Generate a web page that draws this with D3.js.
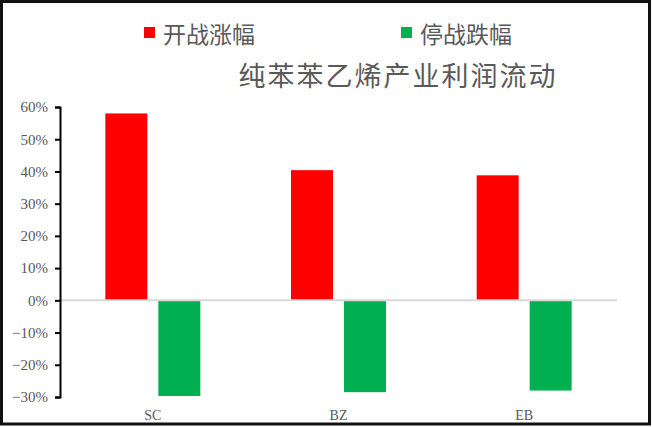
<!DOCTYPE html>
<html>
<head>
<meta charset="utf-8">
<script src="https://cdn.jsdelivr.net/npm/d3@7"></script>
<style>
  body { margin: 0; background: #fff; }
  svg { display: block; }
</style>
</head>
<body>
<svg id="chart" width="652" height="427"></svg>
<script>
// data
let categories = ["SC", "BZ", "EB"];
let seriesNames = ["开战涨幅", "停战跌幅"];
let startValues = [0.58, 0.404, 0.388];     // 开战涨幅
let stopValues = [-0.297, -0.285, -0.28];   // 停战跌幅
let seriesColors = ["#ff0000", "#00b050"];
let tickValues = [-0.3, -0.2, -0.1, 0, 0.1, 0.2, 0.3, 0.4, 0.5, 0.6];
let chartTitle = "纯苯苯乙烯产业利润流动";

let chartW = 652, chartH = 427;
let plotLeft = 60, plotRight = 617, plotTop = 107, plotBottom = 397;

let svg = d3.select("#chart");

// frame
svg.append("rect")
    .attr("x", 1.5).attr("y", 1.5)
    .attr("width", chartW - 4).attr("height", chartH - 4.5)
    .attr("fill", "white")
    .attr("stroke", "#111")
    .attr("stroke-width", 3);

let x0 = d3.scaleBand().domain(categories).range([plotLeft, plotRight]);
let x1 = d3.scaleBand().domain(seriesNames).range([-47.5, 47.5]).paddingInner(11 / 53);
let y = d3.scaleLinear().domain([-0.3, 0.6]).range([plotBottom, plotTop]);

let rows = categories.map((c, i) => ({ cat: c, vals: [startValues[i], stopValues[i]] }));

// bars
let groups = svg.selectAll(".grp").data(rows).enter().append("g")
    .attr("class", "grp")
    .attr("transform", d => "translate(" + (x0(d.cat) + x0.bandwidth() / 2) + ",0)");

groups.selectAll("rect")
    .data(d => d.vals.map((v, j) => ({ v: v, s: seriesNames[j], j: j })))
    .enter().append("rect")
    .attr("x", d => x1(d.s))
    .attr("y", d => y(Math.max(0, d.v)))
    .attr("width", x1.bandwidth())
    .attr("height", d => Math.abs(y(d.v) - y(0)))
    .attr("fill", d => seriesColors[d.j]);

// zero line
svg.append("line")
    .attr("x1", plotLeft).attr("x2", plotRight)
    .attr("y1", y(0)).attr("y2", y(0))
    .attr("stroke", "#d9d9d9")
    .attr("stroke-width", 2);

// y axis
let yAxis = svg.append("g")
    .attr("transform", "translate(" + plotLeft + ",0)")
    .call(d3.axisLeft(y).tickValues(tickValues).tickSize(5).tickSizeOuter(5)
        .tickFormat(d => (d < 0 ? "\u2212" : "") + Math.round(Math.abs(d) * 100) + "%"));
yAxis.select(".domain").attr("stroke", "#000").attr("stroke-width", 2);
yAxis.selectAll(".tick line").attr("stroke", "#000").attr("stroke-width", 2);
yAxis.selectAll(".tick text")
    .attr("x", -12)
    .attr("fill", "#595959")
    .attr("font-family", "'Liberation Serif', 'Times New Roman', serif")
    .attr("font-size", 15);

// x labels
svg.selectAll(".xlab").data(categories).enter().append("text")
    .attr("class", "xlab")
    .attr("x", d => x0(d) + x0.bandwidth() / 2)
    .attr("y", 420)
    .attr("text-anchor", "middle")
    .attr("fill", "#595959")
    .attr("font-family", "'Liberation Serif', 'Times New Roman', serif")
    .attr("font-size", 14)
    .text(d => d);

// legend
let legendX = [144, 401];
seriesNames.forEach((name, i) => {
    svg.append("rect")
        .attr("x", legendX[i]).attr("y", 27)
        .attr("width", 11).attr("height", 11)
        .attr("fill", seriesColors[i]);
    svg.append("text")
        .attr("x", legendX[i] + 19).attr("y", 33)
        .attr("dominant-baseline", "central")
        .attr("fill", "#595959")
        .attr("font-family", "'Noto Sans CJK SC', sans-serif")
        .attr("font-size", 23)
        .text(name);
});

// title
svg.append("text")
    .attr("x", 398).attr("y", 74)
    .attr("text-anchor", "middle")
    .attr("dominant-baseline", "central")
    .attr("fill", "#595959")
    .attr("font-family", "'Noto Sans CJK SC', sans-serif")
    .attr("font-size", 27)
    .attr("letter-spacing", 2)
    .text(chartTitle);
</script>
</body>
</html>
